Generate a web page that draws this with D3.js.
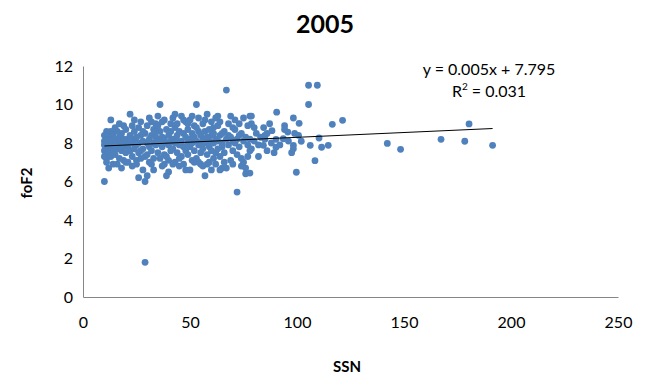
<!DOCTYPE html>
<html>
<head>
<meta charset="utf-8">
<script src="https://cdn.jsdelivr.net/npm/d3@7"></script>
<style>
  html, body { margin: 0; padding: 0; background: #fff; }
  svg { display: block; font-family: Lato, "Liberation Sans", Arial, sans-serif; }
</style>
</head>
<body>
<svg id="chart" width="647" height="376"></svg>
<script>
// Daily sunspot number (SSN) vs foF2 (MHz), 2005
const ssn = [
  10,10,10,10,11,11,11,11,11,12,12,12,12,12,13,13,13,13,13,14,14,14,14,11,10,10,13,14,12,11,
  15,15,15,16,16,16,17,17,17,18,18,18,19,19,19,20,20,20,16,18,20,17,15,19,
  21,21,22,22,22,23,23,23,24,24,24,25,25,25,26,26,26,27,27,27,21,23,25,27,22,24,26,
  28,28,29,29,29,29,30,30,30,31,31,31,32,32,32,33,33,33,34,34,34,28,30,33,31,32,34,28,
  35,35,35,36,36,36,37,37,37,38,38,38,39,39,39,40,40,40,41,41,41,36,38,40,35,37,39,41,
  42,42,42,43,43,43,44,44,44,45,45,45,46,46,46,47,47,47,48,48,48,43,45,47,44,46,48,42,
  49,49,49,50,50,50,51,51,51,52,52,52,53,53,53,54,54,54,55,55,55,50,52,54,49,51,53,55,
  56,56,56,57,57,57,58,58,58,59,59,59,60,60,60,61,61,61,62,62,62,56,58,60,62,57,59,61,
  63,63,63,64,64,64,65,65,65,66,66,67,67,67,68,68,68,69,69,69,70,70,70,64,66,70,63,65,
  71,71,72,72,72,73,73,74,74,75,75,75,76,76,76,77,77,78,78,78,73,74,77,71,
  78.7,78.7,78.7,78,80,81,82,83,84.4,84.3,85,85,86,87.2,88.3,89.3,90.2,90.2,90.5,82,80,86,88,
  93.6,94.2,94.2,95.7,97.5,98.3,98.3,98.3,98.9,99.7,100.7,101,102,105.4,105.4,106.2,108.4,109.5,110.3,111.5,114.6,116.5,121.3,92,96,
  142.2,148.4,167.3,178.4,180.4,191.4
];
const foF2 = [
  7.6,7.9,8.1,6.0,7.4,7.8,8.3,8.6,7.2,7.7,8.0,8.4,7.5,6.7,7.9,8.2,7.3,8.6,9.2,7.8,8.1,7.6,8.4,7.0,7.3,8.4,7.7,6.9,7.9,8.0,
  7.9,8.2,7.4,8.0,8.6,7.7,8.3,7.9,9.0,8.1,7.6,8.5,7.8,8.2,7.1,8.0,8.7,7.5,6.9,6.7,7.0,7.2,8.8,8.9,
  8.2,7.8,9.5,8.4,7.6,8.0,8.9,7.3,8.2,7.7,8.6,7.9,8.3,7.1,8.0,8.8,6.2,7.6,8.4,9.1,7.0,6.8,6.9,7.2,8.1,9.2,7.5,
  8.1,7.7,1.8,6.0,8.5,7.3,8.0,8.9,7.4,8.2,7.8,9.3,8.4,7.6,6.9,8.0,8.7,7.2,8.3,7.9,9.0,6.6,6.3,6.6,7.0,9.1,8.6,8.6,
  8.1,7.5,9.4,8.0,10.0,8.6,7.8,8.3,6.8,8.2,7.4,9.2,6.3,8.0,8.7,7.9,8.4,7.1,8.1,9.0,7.6,7.2,6.9,6.5,8.9,9.1,7.3,8.6,
  8.2,7.7,9.3,8.0,8.8,7.0,8.4,7.5,9.0,7.9,8.6,6.8,8.1,9.4,7.3,7.8,8.5,6.9,8.3,9.1,7.6,9.5,7.2,9.2,8.1,7.9,6.6,6.9,
  8.0,8.7,7.4,8.2,7.8,9.2,8.5,7.1,8.0,8.9,7.6,8.3,10.0,8.1,7.2,7.9,8.6,9.3,8.0,7.5,6.9,6.6,7.0,7.0,9.0,9.4,8.8,8.4,
  8.2,7.7,9.0,6.3,8.0,8.6,7.4,8.3,9.5,8.1,7.8,7.0,8.4,9.1,7.6,8.0,8.8,7.2,8.2,7.5,9.3,6.8,6.9,6.6,6.9,9.2,8.7,8.5,
  8.1,7.7,8.9,8.4,7.3,9.1,8.0,7.8,6.7,8.6,7.5,10.75,8.2,6.7,9.0,7.9,8.4,7.1,8.3,9.4,8.1,7.6,8.8,6.6,7.0,6.9,9.4,8.5,
  8.0,8.7,5.45,7.4,8.2,9.0,7.8,8.5,7.2,8.1,9.3,7.0,6.4,6.7,8.3,7.9,8.9,8.2,7.6,9.4,8.4,6.8,7.3,9.2,
  9.4,9.0,7.7,6.44,8.1,8.5,7.9,8.3,8.8,7.88,8.4,8.2,8.5,9.0,8.64,7.5,8.19,7.78,9.6,7.3,8.8,7.6,8.0,
  8.22,8.9,8.7,8.57,7.5,7.88,7.7,9.3,8.5,6.48,8.4,9.02,8.09,10.0,11.0,7.88,7.08,11.0,8.26,7.78,7.88,8.97,9.18,7.9,8.1,
  7.98,7.67,8.19,8.09,8.99,7.88
];

// Linear trendline coefficients and fit statistic
const slope = 0.005;
const intercept = 7.795;
const rSquared = 0.031;

const xTicks = [0, 50, 100, 150, 200, 250];
const yTicks = [0, 2, 4, 6, 8, 10, 12];

(function draw() {
  const svg = d3.select("#chart");
  const plotLeft = 83, plotRight = 618, plotTop = 66, plotBottom = 297;

  const x = d3.scaleLinear().domain([0, 250]).range([plotLeft, plotRight]);
  const y = d3.scaleLinear().domain([0, 12]).range([plotBottom, plotTop]);

  const axisColor = "#868686";
  const textColor = "#000";
  const font = "Lato, 'Liberation Sans', Arial, sans-serif";

  // Axes
  const xAxis = svg.append("g").attr("transform", `translate(0,${plotBottom})`)
    .call(d3.axisBottom(x).tickValues(xTicks).tickSize(0).tickPadding(20));
  const yAxis = svg.append("g").attr("transform", `translate(${plotLeft},0)`)
    .call(d3.axisLeft(y).tickValues(yTicks).tickSize(0).tickPadding(10));

  [xAxis, yAxis].forEach(g => {
    g.select(".domain").attr("stroke", axisColor).attr("stroke-width", 1);
    g.selectAll("text").attr("fill", textColor)
      .style("font-size", "16px")
      .style("font-family", font);
  });

  // Points
  const pts = ssn.map((s, i) => ({ s, f: foF2[i] }));
  svg.append("g").selectAll("circle").data(pts).join("circle")
    .attr("cx", d => x(d.s))
    .attr("cy", d => y(d.f))
    .attr("r", 3.4)
    .attr("fill", "#4f81bd");

  // Trendline over the data range
  const xMin = d3.min(ssn), xMax = d3.max(ssn);
  svg.append("line")
    .attr("x1", x(xMin)).attr("y1", y(slope * xMin + intercept))
    .attr("x2", x(xMax)).attr("y2", y(slope * xMax + intercept))
    .attr("stroke", "#000").attr("stroke-width", 1);

  // Equation label
  const eq = svg.append("g").attr("font-size", 16).attr("fill", textColor)
    .attr("text-anchor", "middle").style("font-family", font);
  eq.append("text").attr("x", 489).attr("y", 75)
    .text(`y = ${slope.toFixed(3)}x + ${intercept.toFixed(3)}`);
  const r2 = eq.append("text").attr("x", 489).attr("y", 97);
  r2.append("tspan").text("R");
  r2.append("tspan").attr("font-size", 10).attr("dy", -7).text("2");
  r2.append("tspan").attr("dy", 7).text(` = ${rSquared.toFixed(3)}`);

  // Title and axis titles
  svg.append("text").attr("x", 325).attr("y", 33).attr("text-anchor", "middle")
    .style("font-family", font)
    .attr("font-size", 25).attr("font-weight", "bold").attr("fill", textColor).text("2005");
  svg.append("text").attr("x", 347).attr("y", 372).attr("text-anchor", "middle")
    .style("font-family", font)
    .attr("font-size", 15).attr("font-weight", "bold").attr("fill", textColor).text("SSN");
  svg.append("text").attr("transform", "translate(32,183) rotate(-90)").attr("text-anchor", "middle")
    .style("font-family", font)
    .attr("font-size", 15).attr("font-weight", "bold").attr("fill", textColor).text("foF2");
})();
</script>
</body>
</html>
